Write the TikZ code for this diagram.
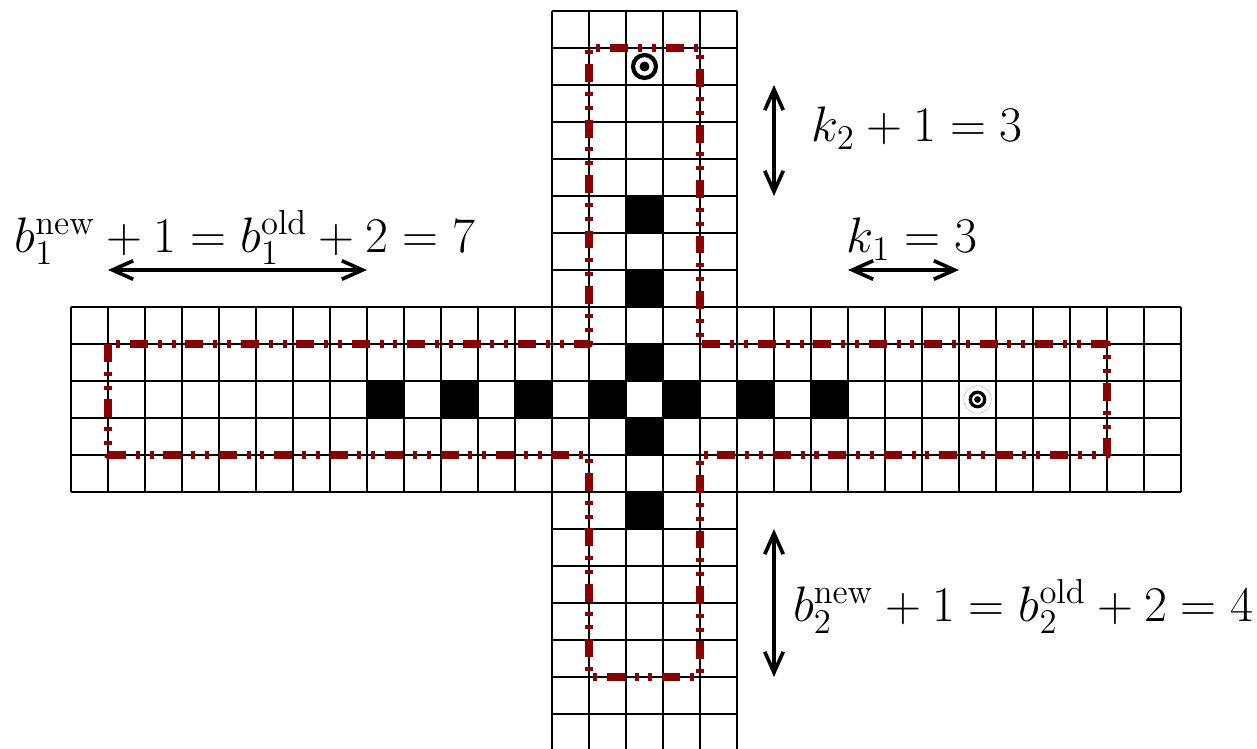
\documentclass[tikz,border=0pt]{standalone}
\usetikzlibrary{arrows.meta}
\definecolor{boxred}{RGB}{139,0,0}
\begin{document}
\begin{tikzpicture}[x=0.5cm,y=0.5cm,
  gridline/.style={line width=0.7pt},
  blackcell/.style={fill=black},
  region/.style={draw=boxred, line width=3.1pt,
    dash pattern=on 6.9pt off 3.78pt on 1.54pt off 3.78pt on 1.54pt off 3.78pt,
    line join=round},
  dimarrow/.style={line width=1.4pt,
    {Straight Barb[length=2.8mm,width=2.5mm]}-{Straight Barb[length=2.8mm,width=2.5mm]}},
  lab/.style={inner sep=0pt, font=\LARGE, scale=1.11}
]
\useasboundingbox (-1.919,-6.946) rectangle (32.054,13.297);

% black cells
\foreach \i in {8,10,...,20} \fill[blackcell] (\i,2) rectangle +(1,1);
\foreach \j in {-1,1,...,7} \fill[blackcell] (15,\j) rectangle +(1,1);

% grids
\draw[gridline] (0,0) grid[step=0.5cm] (30,5);
\draw[gridline] (13,-6.946) grid[step=0.5cm] (18,13);

% region outline
\draw[region] (1,4) -- (1,1) -- (14,1) -- (14,-5) -- (17,-5) -- (17,1) -- (28,1)
  -- (28,4) -- (17,4) -- (17,12) -- (14,12) -- (14,4) -- cycle;

% targets
\coordinate (t1) at (15.5,11.5);
\draw[line width=1.6pt] (t1) circle[radius=0.31];
\fill (t1) circle[radius=0.135];
\coordinate (t2) at (24.5,2.5);
\draw[gray!50, line width=0.2pt] (t2) circle[radius=0.373];
\draw[line width=1.27pt] (t2) circle[radius=0.195];
\fill (t2) circle[radius=0.09];

% dimension arrows
\coordinate (a1s) at (1,6);  \coordinate (a1e) at (8,6);
\coordinate (a2s) at (21,6); \coordinate (a2e) at (24,6);
\coordinate (a3s) at (19,8); \coordinate (a3e) at (19,11);
\coordinate (a4s) at (19,-1); \coordinate (a4e) at (19,-5);
\draw[dimarrow] (a1s) -- (a1e);
\draw[dimarrow] (a2s) -- (a2e);
\draw[dimarrow] (a3s) -- (a3e);
\draw[dimarrow] (a4s) -- (a4e);

% labels
\node[lab, anchor=base] (l1) at (4.7,6.47) {$b_1^{\mathrm{new}}+1=b_1^{\mathrm{old}}+2=7$};
\node[lab, anchor=base] (l2) at (22.73,6.47) {$k_1=3$};
\node[lab, anchor=base west] (l3) at (20.0,9.47) {$k_2+1=3$};
\node[lab, anchor=base west] (l4) at (19.5,-3.5) {$b_2^{\mathrm{new}}+1=b_2^{\mathrm{old}}+2=4$};
\end{tikzpicture}
\end{document}
